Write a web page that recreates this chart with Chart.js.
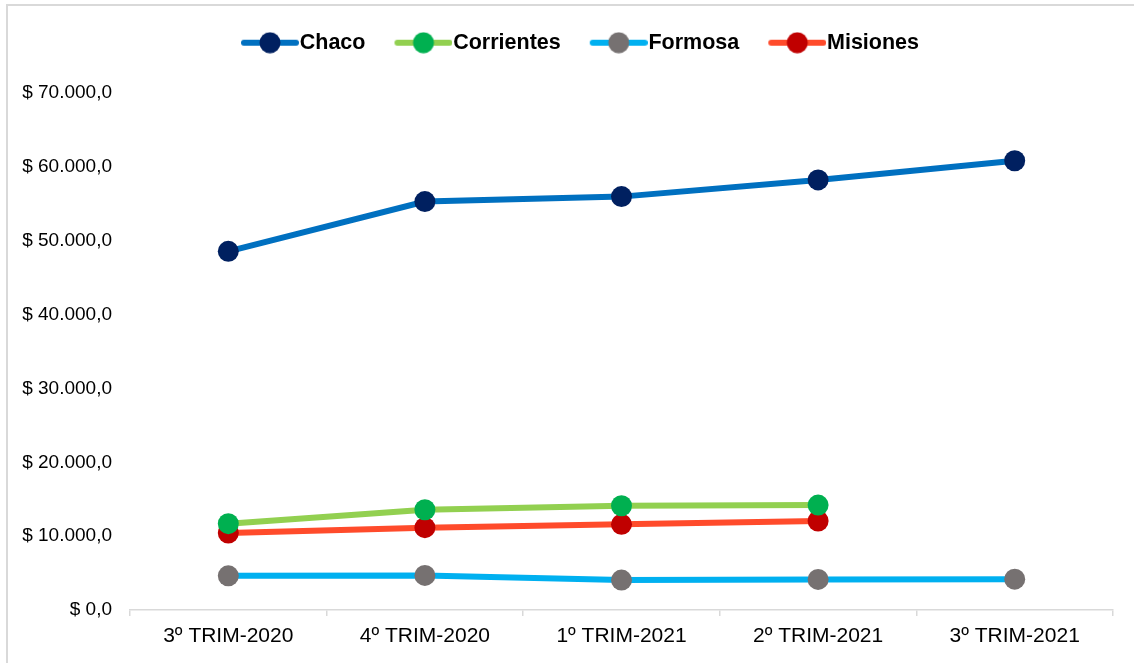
<!DOCTYPE html>
<html>
<head>
<meta charset="utf-8">
<script src="https://cdn.jsdelivr.net/npm/chart.js@4"></script>
<style>
  html,body{margin:0;padding:0;background:#fff;}
  #wrap{position:relative;width:1134px;height:663px;overflow:hidden;}
  #frame{position:absolute;left:6px;top:4px;width:1200px;height:700px;border-left:2px solid #d9d9d9;border-top:2px solid #d9d9d9;}
  canvas{position:absolute;left:0;top:0;}
</style>
</head>
<body>
<div id="wrap">
  <div id="frame"></div>
  <canvas id="chart" width="1134" height="663"></canvas>
</div>
<script>
const categories = ['3º TRIM-2020','4º TRIM-2020','1º TRIM-2021','2º TRIM-2021','3º TRIM-2021'];
const chaco      = [48560, 55300, 55970, 58230, 60830];
const corrientes = [11690, 13580, 14120, 14200, null];
const formosa    = [4630, 4680, 4050, 4140, 4180];
const misiones   = [10430, 11150, 11600, 12050, null];
const yTicks     = [0, 10000, 20000, 30000, 40000, 50000, 60000, 70000];

const series = [
  {label:'Chaco',      data:chaco,      line:'#0070C0', dot:'#002060'},
  {label:'Corrientes', data:corrientes, line:'#92D050', dot:'#00B050'},
  {label:'Formosa',    data:formosa,    line:'#00B0F0', dot:'#767171'},
  {label:'Misiones',   data:misiones,   line:'#FF4B2B', dot:'#C00000'}
];

// legend symbol: short thick line with a dot, sitting in the right part of the canvas
function legendIcon(line, dot){
  const c = document.createElement('canvas');
  c.width = 87; c.height = 22;
  const g = c.getContext('2d');
  g.strokeStyle = line; g.lineWidth = 6; g.lineCap = 'round';
  g.beginPath(); g.moveTo(32,11); g.lineTo(84,11); g.stroke();
  g.fillStyle = dot;
  g.beginPath(); g.arc(58,11,10.5,0,Math.PI*2); g.fill();
  return c;
}
const icons = series.map(s => legendIcon(s.line, s.dot));

function fmt(v){
  const s = Math.round(v).toString().replace(/\B(?=(\d{3})+(?!\d))/g,'.');
  return '$ ' + s + ',0';
}

// extra room between legend and plot, and nudge the legend a bit right
const legendTweak = {
  id:'legendTweak',
  afterInit(chart){
    const lg = chart.legend;
    if(!lg) return;
    const fit = lg.fit.bind(lg);
    lg.fit = function(){ fit(); this.height += 29.5; };
  },
  afterLayout(chart){
    const lg = chart.legend;
    if(!lg) return;
    lg.left += 3; lg.right += 3;
  }
};

const font = '"Liberation Sans", Arial, sans-serif';

new Chart(document.getElementById('chart'), {
  type:'line',
  data:{
    labels:categories,
    datasets:series.map(s=>({
      label:s.label,
      data:s.data,
      borderColor:s.line,
      backgroundColor:s.dot,
      borderWidth:6,
      pointRadius:10.5,
      pointHoverRadius:10.5,
      pointBackgroundColor:s.dot,
      pointBorderColor:s.dot,
      pointBorderWidth:0,
      tension:0,
      spanGaps:false
    }))
  },
  plugins:[legendTweak],
  options:{
    responsive:false,
    animation:false,
    devicePixelRatio:1,
    layout:{padding:{left:22,right:21,top:22,bottom:0}},
    plugins:{
      tooltip:{enabled:false},
      legend:{
        position:'top',
        labels:{
          usePointStyle:true,
          pointStyleWidth:67,
          padding:10,
          color:'#000',
          font:{family:font, size:21.5, weight:'bold'},
          generateLabels:(chart)=>{
            const items = Chart.defaults.plugins.legend.labels.generateLabels(chart);
            items.forEach((it,i)=>{ it.pointStyle = icons[i]; });
            return items;
          }
        }
      }
    },
    scales:{
      x:{
        offset:true,
        grid:{display:true,offset:true,drawOnChartArea:false,drawTicks:true,tickLength:6,color:'#d9d9d9',lineWidth:1.5},
        border:{display:true,color:'#d9d9d9',width:1.5},
        ticks:{color:'#000',padding:8,font:{family:font,size:21}},
        afterFit:(s)=>{ s.height = 53; }
      },
      y:{
        min:0,max:70000,
        afterBuildTicks:(s)=>{ s.ticks = yTicks.map(v=>({value:v})); },
        grid:{display:false,drawTicks:false},
        border:{display:false},
        ticks:{color:'#000',padding:18,font:{family:font,size:19},callback:(v)=>fmt(v)},
        afterFit:(s)=>{ s.width = 108; }
      }
    }
  }
});
</script>
</body>
</html>
